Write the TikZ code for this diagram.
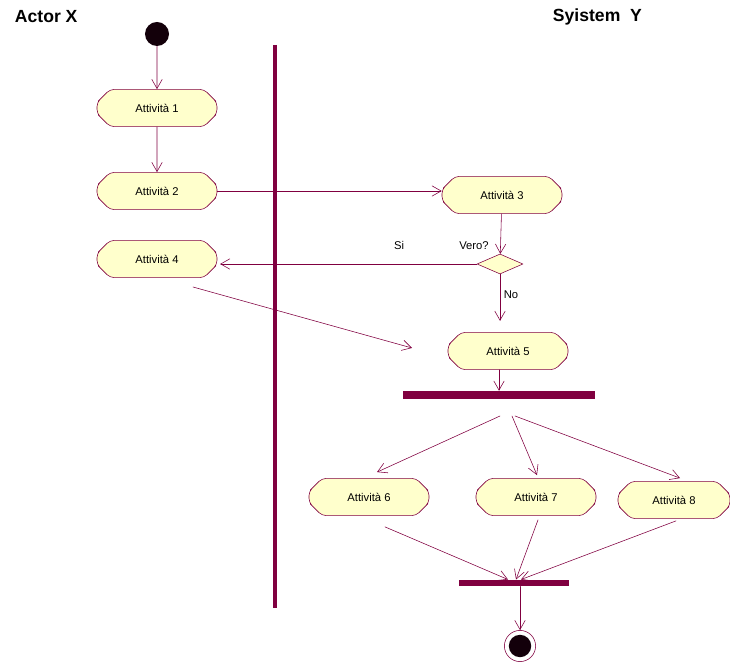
\documentclass[tikz,border=0pt]{standalone}
\usepackage{fontspec}
\setmainfont{Liberation Sans}
\usetikzlibrary{arrows.meta,shapes.geometric,shapes.misc,calc}
\definecolor{umlline}{RGB}{128,0,64}
\definecolor{umlfill}{RGB}{255,255,204}
\tikzset{
  act/.style={chamfered rectangle, chamfered rectangle xsep=3mm, chamfered rectangle ysep=2.2mm,
    draw=umlline, fill=umlfill, rounded corners=3pt, minimum width=3cm, minimum height=0.93cm,
    inner sep=0pt, font=\fontsize{8}{9}\selectfont},
  dec/.style={diamond, draw=umlline, fill=umlfill, minimum width=1.15cm, minimum height=0.5cm, inner sep=0pt},
  bar/.style={rectangle, fill=umlline, minimum height=0.2cm, inner sep=0pt},
  flow/.style={draw=umlline, -{Straight Barb[length=2.3mm,width=2.6mm]}},
  lbl/.style={font=\fontsize{8}{9}\selectfont, inner sep=1pt},
  lane/.style={font=\bfseries\fontsize{12.5}{14}\selectfont}
}
\begin{document}
\begin{tikzpicture}[x=0.025cm, y=-0.025cm, line join=round, line cap=round]
			\useasboundingbox (0,0) rectangle (730,668);
			\node[anchor=west, lane] (actorx) at (10,17) {Actor X};
			\node[anchor=west, lane] (sysy) at (548,17) {Syistem\ \ Y};
			\draw[umlline, line width=3pt, line cap=butt] (275,45) -- (275,608);
			\node[circle, fill=black!85!umlline, minimum size=0.6cm, inner sep=0pt] (start) at (157,34) {};
			\node[act] (a1) at (157,108) {Attivit\`a 1};
			\node[act] (a2) at (157,191) {Attivit\`a 2};
			\node[act] (a3) at (502,195) {Attivit\`a 3};
			\node[act] (a4) at (157,259) {Attivit\`a 4};
			\node[dec] (vero) at (500,264) {};
			\node[act] (a5) at (508,351) {Attivit\`a 5};
			\node[bar, minimum width=4.82cm] (fork) at (499,395) {};
			\node[act] (a6) at (369,497) {Attivit\`a 6};
			\node[act] (a7) at (536,497) {Attivit\`a 7};
			\node[act, minimum width=2.8cm] (a8) at (674,500) {Attivit\`a 8};
			\node[bar, minimum width=2.75cm, minimum height=0.16cm] (join) at (514,583) {};
			\node[circle, draw=umlline, fill=white, minimum size=0.78cm, inner sep=0pt] (end) at (520,646) {};
			\fill[black!85!umlline] (end) circle (0.28cm);
			\node[lbl] (si) at (399,245) {Si};
			\node[lbl] (verolbl) at (474,246) {Vero?};
			\node[lbl] (no) at (511,295) {No};
			\coordinate (a4out) at (193,287);
			\coordinate (a5in) at (412,348);
			\coordinate (forkl) at (500,416);
			\coordinate (forkm) at (512,416);
			\coordinate (forkr) at (515,416);
			\draw[flow] (start) -- (a1);
			\draw[flow] (a1) -- (a2);
			\draw[flow] (a2.east) -- (a2.east -| a3.west);
			\draw[flow] (a3) -- (vero);
			\draw[flow, shorten >=2pt] (vero.west) -- (vero.west -| a4.east);
			\draw[flow, shorten >=8pt] (vero.south) -- (vero.south |- a5.north);
			\draw[flow] (a4out) -- (a5in);
			\draw[flow] (a5.south -| fork) -- (fork.north);
			\draw[flow] (forkl) -- ($(a6.north)+(8,-6)$);
			\draw[flow] (forkm) -- ($(a7.north)+(1,-3)$);
			\draw[flow] (forkr) -- ($(a8.north)+(6,-3)$);
			\draw[flow] ($(a6.south)+(16,11)$) -- ($(join.north)+(-6,0)$);
			\draw[flow] ($(a7.south)+(2,4)$) -- ($(join.north)+(2,0)$);
			\draw[flow] ($(a8.south)+(2,2)$) -- ($(join.north)+(7,0)$);
			\draw[flow] (join.south -| end) -- (end);
		\end{tikzpicture}
\end{document}
